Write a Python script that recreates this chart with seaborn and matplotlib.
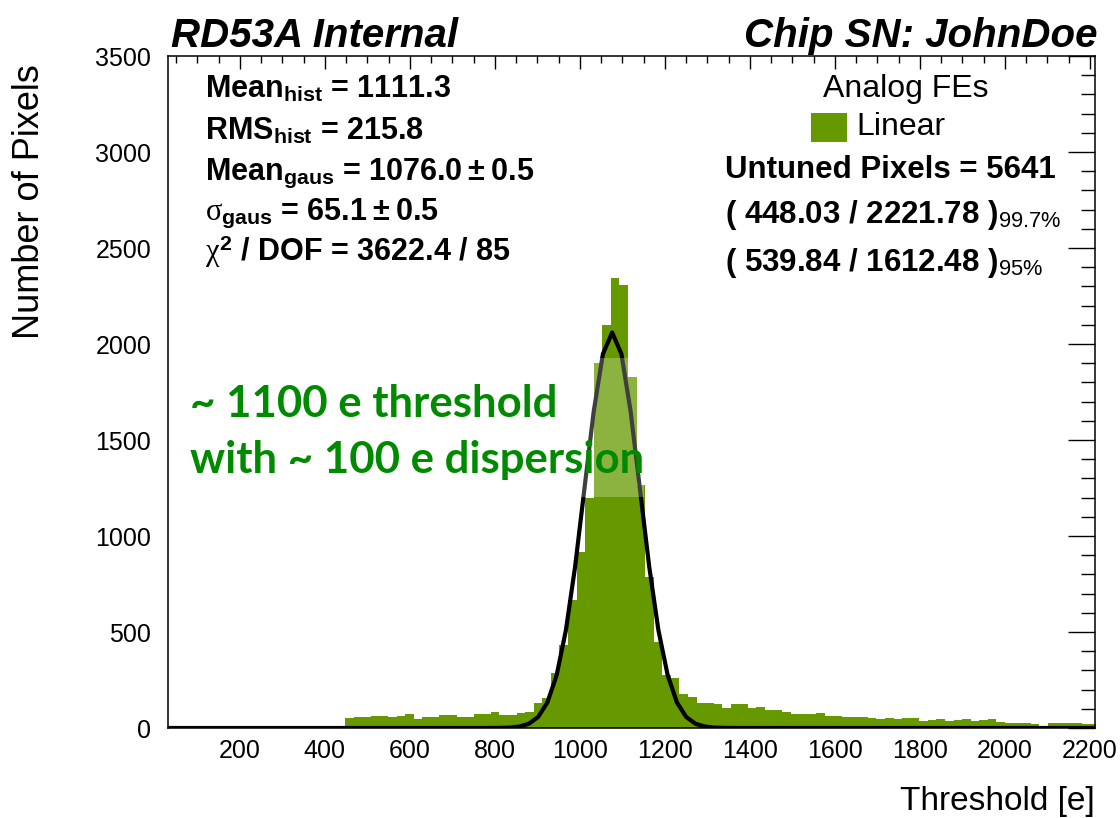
import numpy as np
import pandas as pd
import matplotlib
matplotlib.use("Agg")
import matplotlib.pyplot as plt
import seaborn as sns
from matplotlib.patches import Rectangle
from matplotlib.ticker import MultipleLocator

# ---------------- data ----------------
bin_low = 448.03
bin_high = 2221.78
n_bins = 88
counts = [52, 57, 59, 62, 62, 57, 62, 73, 47, 59, 57, 68, 68, 59, 59, 73, 73, 83, 68, 68, 78, 83,
          130, 156, 286, 432, 667, 917, 1200, 1900, 2099, 2344, 2307, 1828, 1266, 786, 448, 276,
          260, 175, 160, 130,
          130, 125, 104, 125, 125, 104, 109, 94, 94, 83, 73, 73, 75, 78, 62, 62, 57, 57, 55, 52,
          47, 50, 47,
          52, 50, 36, 40, 47, 36, 40, 47, 36, 40, 47, 31, 28, 26, 26, 20, 0, 26, 26, 26, 26, 21, 21]

fit_mean = 1076.0
fit_sigma = 65.1
fit_amplitude = 2060.0
fit_range = (31.0, 2208.0)
fit_npx = 101

x_range = (31.0, 2212.0)
y_range = (0.0, 3500.0)

stats_lines = [
    r"Mean$_{\mathrm{hist}}$ = 1111.3",
    r"RMS$_{\mathrm{hist}}$ = 215.8",
    "Mean$_{\\mathrm{gaus}}$ = 1076.0\u2009\u00b1\u20090.5",
    "$\\sigma_{\\mathrm{gaus}}$ = 65.1\u2009\u00b1\u20090.5",
    r"$\chi^{2}$ / DOF = 3622.4 / 85",
]
right_lines = [
    "Untuned Pixels = 5641",
    r"( 448.03 / 2221.78 )$_{\mathsf{99.7\%}}$",
    r"( 539.84 / 1612.48 )$_{\mathsf{95\%}}$",
]
legend_title = "Analog FEs"
legend_label = "Linear"
note_lines = ["~ 1100 e threshold", "with ~ 100 e dispersion"]

GREEN = "#669900"
NOTE_GREEN = "#008a00"

# ---------------- style ----------------
sns.set_style("white")
plt.rcParams["font.family"] = ["Liberation Sans", "DejaVu Sans"]
plt.rcParams["text.color"] = "black"
plt.rcParams["axes.labelcolor"] = "black"
plt.rcParams["xtick.color"] = "black"
plt.rcParams["ytick.color"] = "black"
plt.rcParams["mathtext.fontset"] = "custom"
plt.rcParams["mathtext.rm"] = "Liberation Sans:bold"
plt.rcParams["mathtext.bf"] = "Liberation Sans:bold"
plt.rcParams["mathtext.it"] = "Liberation Serif"
plt.rcParams["mathtext.sf"] = "Liberation Sans"

W, H = 1120, 818
fig = plt.figure(figsize=(W / 100, H / 100), dpi=100)
fig.patch.set_facecolor("white")

def fx(px):
    return px / W

def fy(py):
    return 1 - py / H

ax = fig.add_axes([fx(168), fy(728), fx(1095) - fx(168), fy(56) - fy(728)])
ax.set_facecolor("white")

bin_width = (bin_high - bin_low) / n_bins
centers = bin_low + bin_width * (np.arange(n_bins) + 0.5)
df = pd.DataFrame({"threshold": centers, "pixels": np.asarray(counts, dtype=float)})

sns.histplot(data=df, x="threshold", weights="pixels", binwidth=bin_width,
             binrange=(bin_low, bin_high), element="step",
             fill=True, color=GREEN, alpha=1.0, linewidth=0, ax=ax)

xs = np.linspace(fit_range[0], fit_range[1], fit_npx)
ys = fit_amplitude * np.exp(-0.5 * ((xs - fit_mean) / fit_sigma) ** 2)
sns.lineplot(x=xs, y=ys, color="black", linewidth=3.0, ax=ax, zorder=5)

ax.set_xlim(*x_range)
ax.set_ylim(*y_range)
ax.set_xlabel("")
ax.set_ylabel("")

ax.xaxis.set_major_locator(MultipleLocator(200))
ax.xaxis.set_minor_locator(MultipleLocator(50))
ax.yaxis.set_major_locator(MultipleLocator(500))
ax.yaxis.set_minor_locator(MultipleLocator(100))
ax.tick_params(which="both", direction="in", top=True, right=True,
               labeltop=False, labelright=False, width=1.0, colors="black")
ax.tick_params(axis="x", which="major", length=9.5, pad=8, labelsize=18)
ax.tick_params(axis="x", which="minor", length=5)
ax.tick_params(axis="y", which="major", length=19.4, pad=12, labelsize=18)
ax.tick_params(axis="y", which="minor", length=10)
for s in ax.spines.values():
    s.set_visible(True)
    s.set_color("black")
    s.set_linewidth(1.1)

# axis titles (ROOT style, at ends)
fig.text(fx(1095), fy(810), "Threshold [e]", ha="right", va="baseline", fontsize=24)
fig.text(fx(30), fy(64), "Number of Pixels", ha="center", va="top", rotation=90, fontsize=26)

# header texts
fig.text(fx(171), fy(47), "RD53A Internal", ha="left", va="baseline", fontsize=29,
         fontweight="bold", fontstyle="italic")
fig.text(fx(1097), fy(47), "Chip SN: JohnDoe", ha="right", va="baseline", fontsize=29,
         fontweight="bold", fontstyle="italic")

# stats box
stat_baselines = [98, 139, 179, 220, 261]
for txt, b in zip(stats_lines, stat_baselines):
    fig.text(fx(205), fy(b), txt, ha="left", va="baseline", fontsize=22, fontweight="bold")

# legend
fig.text(fx(906), fy(97), legend_title, ha="center", va="baseline", fontsize=23)
fig.add_artist(Rectangle((fx(811), fy(142)), fx(847) - fx(811), fy(113) - fy(142),
                         transform=fig.transFigure, facecolor=GREEN, edgecolor="none"))
fig.text(fx(856), fy(135), legend_label, ha="left", va="baseline", fontsize=23)

right_baselines = [178, 223, 271]
for txt, b in zip(right_lines, right_baselines):
    fig.text(fx(725), fy(b), txt, ha="left", va="baseline", fontsize=22.5, fontweight="bold")

# translucent note box + note text
fig.add_artist(Rectangle((fx(185), fy(497)), fx(644) - fx(185), fy(358) - fy(497),
                         transform=fig.transFigure, facecolor="white", edgecolor="none",
                         alpha=0.25, zorder=2))
fig.text(fx(190), fy(417), note_lines[0], ha="left", va="baseline", fontsize=31.5,
         fontweight="bold", color=NOTE_GREEN, family=["Lato", "DejaVu Sans"], zorder=4)
fig.text(fx(190), fy(473), note_lines[1], ha="left", va="baseline", fontsize=31.5,
         fontweight="bold", color=NOTE_GREEN, family=["Lato", "DejaVu Sans"], zorder=4)

fig.savefig("out.png", dpi=100, facecolor="white")
